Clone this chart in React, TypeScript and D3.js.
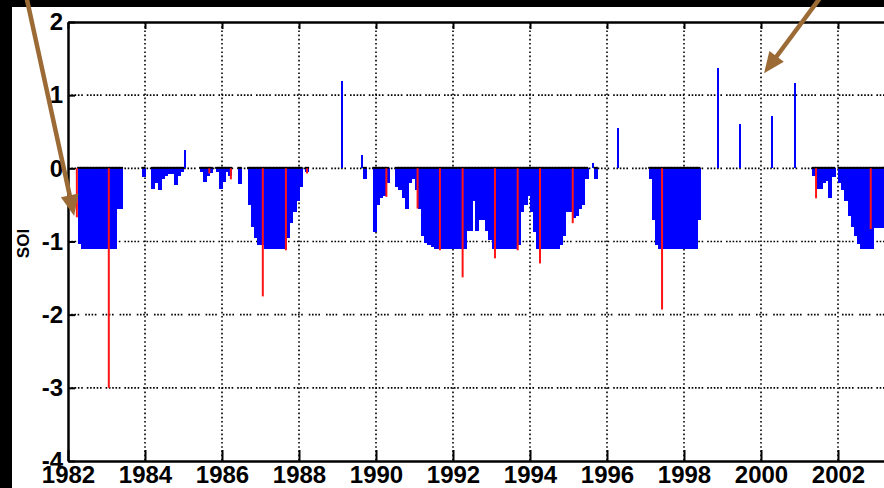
import React, { useEffect, useRef } from "react";
import * as d3 from "d3";

// monthly index values, Jan..Dec per year (0 = no bar)
const soi = [
  /*1982*/ 0, 0, 0, -1.03, -1.1, -1.1, -1.1, -1.1, -1.1, -1.1, -1.1, -1.1,
  /*1983*/ -1.1, -1.1, -1.1, -0.55, -0.55, 0, 0, 0, 0, 0, 0, -0.12,
  /*1984*/ 0, 0, -0.28, -0.2, -0.3, -0.15, -0.1, -0.08, -0.08, -0.23, -0.1, -0.05,
  /*1985*/ 0.25, 0, 0, 0, 0, -0.05, -0.19, -0.1, -0.06, 0, -0.05, -0.28,
  /*1986*/ -0.18, -0.05, -0.1, 0, 0, -0.21, 0, 0, -0.5, -0.8, -0.95, -1.05,
  /*1987*/ -1.05, -1.1, -1.1, -1.1, -1.1, -1.1, -1.1, -1.1, -0.95, -0.75, -0.6, -0.45,
  /*1988*/ -0.25, 0, -0.05, 0, 0, 0, 0, 0, 0, 0, 0, 0,
  /*1989*/ 0, 1.2, 0, 0, 0, 0, 0, 0.18, -0.14, 0, 0, -0.87,
  /*1990*/ -0.5, -0.4, -0.38, -0.2, 0, 0, -0.25, -0.3, -0.4, -0.55, -0.2, -0.15,
  /*1991*/ -0.3, -0.55, -0.92, -1.02, -1.05, -1.08, -1.1, -1.1, -1.1, -1.1, -1.1, -1.1,
  /*1992*/ -1.1, -1.1, -1.1, -1.1, -0.85, -0.85, -0.44, -0.85, -0.7, -0.7, -0.85, -0.98,
  /*1993*/ -1.1, -1.1, -1.1, -1.1, -1.1, -1.1, -1.1, -1.1, -1.05, -0.6, -0.5, -0.38,
  /*1994*/ -0.6, -0.87, -1.1, -1.1, -1.1, -1.1, -1.1, -1.1, -1.1, -1.05, -0.92, -0.6,
  /*1995*/ -0.6, -0.68, -0.65, -0.55, -0.5, -0.15, 0, 0.07, -0.14, 0, 0, 0,
  /*1996*/ 0, 0, 0, 0.55, 0, 0, 0, 0, 0, 0, 0, 0,
  /*1997*/ 0, -0.15, -0.7, -1.05, -1.1, -1.1, -1.1, -1.1, -1.1, -1.1, -1.1, -1.1,
  /*1998*/ -1.1, -1.1, -1.1, -1.1, -0.7, 0, 0, 0, 0, 0, 1.37, 0,
  /*1999*/ 0, 0, 0, 0, 0, 0.61, 0, 0, 0, 0, 0, 0,
  /*2000*/ 0, 0, 0, 0.71, 0, 0, 0, 0, 0, 0, 1.16, 0,
  /*2001*/ 0, 0, 0, 0, -0.1, -0.28, -0.28, -0.2, -0.17, -0.4, -0.12, 0,
  /*2002*/ -0.2, -0.3, -0.45, -0.65, -0.8, -0.92, -1.03, -1.1, -1.1, -1.1, -1.1, -0.82,
  /*2003*/ -0.82, -0.82, -0.82, -0.82,
];

// highlighted events (red)
const redDates = [1982.23, 1983.06, 1985.67, 1986.23, 1987.06, 1987.66, 1988.21, 1990.27, 1991.08,
  1991.66, 1992.25, 1993.09, 1993.68, 1994.26, 1995.11, 1997.43, 2001.43, 2002.85];
const redValues = [-0.67, -3.0, -0.07, -0.15, -1.75, -1.12, -0.07, -0.39, -0.55,
  -1.12, -1.49, -1.23, -1.12, -1.3, -0.75, -1.93, -0.41, -0.83];

const xTicks = [1982, 1984, 1986, 1988, 1990, 1992, 1994, 1996, 1998, 2000, 2002];
const yTicks = [2, 1, 0, -1, -2, -3, -4];

// arrow tips (data coords) and tail offsets (px)
const arrowTips = [[1982.16, -0.65], [2000.08, 1.3]];
const arrowTails = [[-48, -220], [58, -78]];

const W = 884, H = 488;
const FONT = "'Liberation Sans', Arial, Helvetica, sans-serif";

export default function App() {
  const ref = useRef<SVGSVGElement>(null);

  useEffect(() => {
    const svg = d3.select(ref.current);
    svg.selectAll("*").remove();

    svg.append("rect").attr("width", W).attr("height", H).attr("fill", "#000");
    svg.append("rect").attr("x", 12).attr("y", 7).attr("width", W - 12).attr("height", H - 7).attr("fill", "#fff");

    const x = d3.scaleLinear().domain([1982, 2004]).range([68, 915]);
    const y = d3.scaleLinear().domain([-4, 2]).range([461, 22]);

    // grid
    const grid = svg.append("g").attr("stroke", "#000").attr("stroke-width", 1.6);
    grid.selectAll("line.h")
      .data(yTicks.filter(d => d > -4 && d < 2))
      .join("line")
      .attr("class", "h")
      .attr("x1", x(1982)).attr("x2", x(2004))
      .attr("y1", d => y(d)).attr("y2", d => y(d))
      .attr("stroke-dasharray", d => d === -2
        ? "1.6 1.6 1.6 1.6 1.6 1.6 1.6 6"
        : "1.6 1.7 1.6 1.7 1.6 1.7 1.6 1.7 1.6 4");
    grid.selectAll("line.v")
      .data(xTicks.slice(1))
      .join("line")
      .attr("class", "v")
      .attr("x1", d => x(d)).attr("x2", d => x(d))
      .attr("y1", y(2)).attr("y2", y(-4))
      .attr("stroke-dasharray", "1.6 2.6");

    // bars
    const mw = x(1982 + 1 / 12) - x(1982);
    const bars = soi.map((v, i) => ({ t: 1982 + i / 12, v })).filter(d => d.v !== 0);

    svg.append("g")
      .attr("shape-rendering", "crispEdges")
      .selectAll("rect")
      .data(bars)
      .join("rect")
      .attr("x", d => d.v < 0 ? x(d.t) : x(d.t + 1 / 24) - 1)
      .attr("width", d => d.v < 0 ? mw + 0.8 : 2)
      .attr("y", d => y(Math.max(0, d.v)))
      .attr("height", d => Math.abs(y(d.v) - y(0)))
      .attr("fill", "#0000ff");

    // bar tops along zero
    svg.append("g").selectAll("line")
      .data(bars.filter(d => d.v < 0))
      .join("line")
      .attr("x1", d => x(d.t) - 0.5).attr("x2", d => x(d.t) + mw + 0.5)
      .attr("y1", y(0) - 0.5).attr("y2", y(0) - 0.5)
      .attr("stroke", "#000").attr("stroke-width", 2);

    // red events
    svg.append("g").selectAll("line")
      .data(redDates.map((t, i) => ({ t, v: redValues[i] })))
      .join("line")
      .attr("x1", d => x(d.t)).attr("x2", d => x(d.t))
      .attr("y1", y(0)).attr("y2", d => y(d.v))
      .attr("stroke", "#ff1414").attr("stroke-width", 2);

    // axes
    const styleAxis = (g: any) => {
      g.attr("font-family", FONT).attr("font-size", 24).attr("font-weight", "bold");
      g.select(".domain").attr("stroke", "#000").attr("stroke-width", 2.5);
      g.selectAll(".tick line").attr("stroke", "#000").attr("stroke-width", 2);
      g.selectAll(".tick text").attr("fill", "#000");
    };

    svg.append("g")
      .attr("transform", `translate(0,${y(-4)})`)
      .call(d3.axisBottom(x).tickValues(xTicks).tickSizeInner(-11).tickSizeOuter(0)
        .tickPadding(5).tickFormat(d3.format("d")))
      .call(styleAxis);

    svg.append("g")
      .attr("transform", `translate(0,${y(2)})`)
      .call(d3.axisTop(x).tickValues(xTicks).tickSizeInner(-7).tickSizeOuter(0).tickFormat(() => ""))
      .call(styleAxis);

    svg.append("g")
      .attr("transform", `translate(${x(1982)},0)`)
      .call(d3.axisLeft(y).tickValues(yTicks).tickSizeInner(-7).tickSizeOuter(0)
        .tickPadding(5).tickFormat(d => (+d < 0 ? "-" + Math.abs(+d) : String(d))))
      .call(styleAxis);

    svg.append("text")
      .attr("transform", `translate(29,${y(-1) + 2}) rotate(-90)`)
      .attr("text-anchor", "middle")
      .attr("font-family", FONT).attr("font-size", 17).attr("font-weight", "bold")
      .text("SOI");

    // arrows
    const brown = "#9b6a35";
    arrowTips.forEach(([t, v], i) => {
      const tx = x(t), ty = y(v);
      const sx = tx + arrowTails[i][0], sy = ty + arrowTails[i][1];
      const len = Math.hypot(tx - sx, ty - sy);
      const ux = (tx - sx) / len, uy = (ty - sy) / len;
      const hl = 21, hw = 9;
      const bx = tx - ux * hl, by = ty - uy * hl;
      svg.append("line")
        .attr("x1", sx).attr("y1", sy).attr("x2", bx + ux * 2).attr("y2", by + uy * 2)
        .attr("stroke", brown).attr("stroke-width", 4.5);
      svg.append("polygon")
        .attr("points", [[tx, ty], [bx - uy * hw, by + ux * hw], [bx + uy * hw, by - ux * hw]]
          .map(p => p.join(",")).join(" "))
        .attr("fill", brown);
    });
  }, []);

  return (
    <svg ref={ref} width={W} height={H}
      style={{ position: "absolute", left: 0, top: 0, display: "block" }} />
  );
}
